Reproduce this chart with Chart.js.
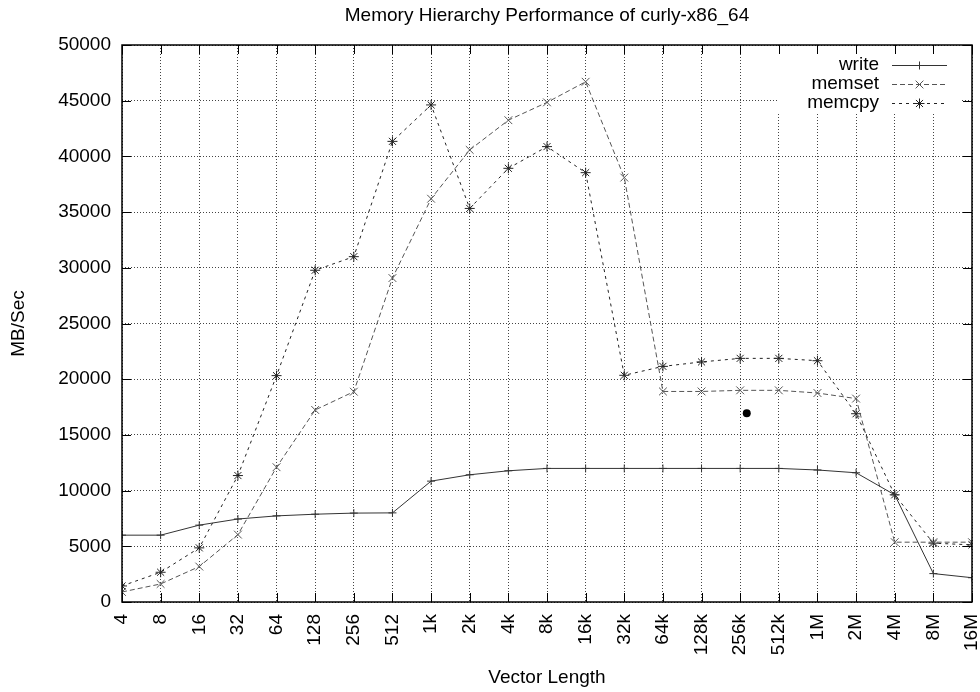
<!DOCTYPE html>
<html>
<head>
<meta charset="utf-8">
<title>Memory Hierarchy Performance</title>
<script src="https://cdn.jsdelivr.net/npm/chart.js@4/dist/chart.umd.min.js"></script>
<style>
    body { margin: 0; background: #fff; }
    canvas { display: block; }
</style>
</head>
<body>
<canvas id="chart" width="980" height="692"></canvas>
<script>
const TITLE = 'Memory Hierarchy Performance of curly-x86_64';
const FONT = '"Liberation Sans", Arial, Helvetica, sans-serif';

// vector lengths on the x axis
const lengths = ['4', '8', '16', '32', '64', '128', '256', '512', '1k', '2k', '4k', '8k',
    '16k', '32k', '64k', '128k', '256k', '512k', '1M', '2M', '4M', '8M', '16M'];

// MB/Sec
const writeSpeed = [6000, 6000, 6900, 7450, 7730, 7880, 7980, 8000, 10850, 11420, 11780, 11990,
    11990, 11990, 11990, 11990, 11990, 11990, 11850, 11600, 9620, 2550, 2180];
const memsetSpeed = [900, 1620, 3180, 6050, 12100, 17240, 18880, 29080, 36200, 40580, 43250, 44850,
    46700, 38100, 18900, 18900, 19000, 19000, 18760, 18260, 5370, 5370, 5370];
const memcpySpeed = [1440, 2670, 4860, 11350, 20320, 29780, 31000, 41350, 44620, 35330, 38930, 40880,
    38540, 20350, 21150, 21550, 21870, 21870, 21660, 16900, 9620, 5280, 5130];

// the lone dot between 256k and 512k
const strayX = [16.17];
const strayY = [16950];

const yTicks = [0, 5000, 10000, 15000, 20000, 25000, 30000, 35000, 40000, 45000, 50000];

function toPoints(values) {
    return values.map((v, i) => ({ x: i, y: v }));
}

function series(label, values, color, dash, style, radius) {
    return {
        label: label,
        data: toPoints(values),
        borderColor: color,
        backgroundColor: color,
        borderWidth: 1,
        borderDash: dash,
        pointStyle: style,
        pointRadius: radius,
        pointBorderWidth: 1,
        pointBorderColor: color,
        tension: 0,
        fill: false
    };
}

// grid is hidden behind the key box, like gnuplot does
const keyBox = {
    id: 'keyBox',
    beforeDatasetsDraw(chart) {
        const ctx = chart.ctx;
        ctx.save();
        ctx.fillStyle = '#fff';
        ctx.fillRect(778, 47, 182, 66);
        ctx.restore();
    }
};

function marker(ctx, style, radius, x, y) {
    if (Chart.helpers && Chart.helpers.drawPoint) {
        Chart.helpers.drawPoint(ctx, { pointStyle: style, radius: radius, borderWidth: 1, rotation: 0 }, x, y);
    }
}

const frame = {
    id: 'frame',
    afterDraw(chart) {
        const ctx = chart.ctx;
        const area = chart.chartArea;
        const xs = chart.scales.x;
        const ys = chart.scales.y;
        const tick = 9;

        ctx.save();
        ctx.strokeStyle = '#000';
        ctx.setLineDash([]);

        // inward ticks on all four sides
        ctx.lineWidth = 1;
        ctx.beginPath();
        lengths.forEach((_, i) => {
            const px = Math.round(xs.getPixelForValue(i)) + 0.5;
            ctx.moveTo(px, area.bottom);
            ctx.lineTo(px, area.bottom - tick);
            ctx.moveTo(px, area.top);
            ctx.lineTo(px, area.top + tick);
        });
        yTicks.forEach(v => {
            const py = Math.round(ys.getPixelForValue(v)) + 0.5;
            ctx.moveTo(area.left, py);
            ctx.lineTo(area.left + tick, py);
            ctx.moveTo(area.right, py);
            ctx.lineTo(area.right - tick, py);
        });
        ctx.stroke();

        ctx.lineWidth = 1.5;
        ctx.strokeRect(area.left, area.top, area.right - area.left, area.bottom - area.top);

        // title
        ctx.fillStyle = '#000';
        ctx.font = '19px ' + FONT;
        ctx.textAlign = 'center';
        ctx.textBaseline = 'middle';
        ctx.fillText(TITLE, (area.left + area.right) / 2, 16);

        // key
        ctx.textAlign = 'right';
        chart.data.datasets.slice(0, 3).forEach((ds, i) => {
            const y = 65 + i * 19;
            ctx.fillStyle = '#000';
            ctx.fillText(ds.label, 879, y);
            ctx.strokeStyle = ds.borderColor;
            ctx.lineWidth = 1;
            ctx.setLineDash(ds.borderDash);
            ctx.beginPath();
            ctx.moveTo(892, y + 0.5);
            ctx.lineTo(947, y + 0.5);
            ctx.stroke();
            ctx.setLineDash([]);
            marker(ctx, ds.pointStyle, ds.pointRadius, 919.5, y + 0.5);
        });
        ctx.restore();
    }
};

document.addEventListener('DOMContentLoaded', () => {
    const ctx = document.getElementById('chart').getContext('2d');

    new Chart(ctx, {
        type: 'line',
        data: {
            datasets: [
                series('write', writeSpeed, '#333', [], 'cross', 4),
                series('memset', memsetSpeed, '#555', [5, 3], 'crossRot', 5.5),
                series('memcpy', memcpySpeed, '#222', [3, 4], 'star', 5),
                {
                    label: 'dot',
                    data: strayX.map((x, i) => ({ x: x, y: strayY[i] })),
                    showLine: false,
                    pointStyle: 'circle',
                    pointRadius: 4,
                    backgroundColor: '#000',
                    borderColor: '#000',
                    pointBorderWidth: 0
                }
            ]
        },
        options: {
            responsive: false,
            animation: false,
            events: [],
            layout: { padding: { top: 45, right: 8, left: 0, bottom: 0 } },
            plugins: {
                legend: { display: false },
                title: { display: false },
                tooltip: { enabled: false }
            },
            scales: {
                x: {
                    type: 'linear',
                    min: 0,
                    max: lengths.length - 1,
                    grid: { color: '#444', lineWidth: 1, drawTicks: false },
                    border: { display: false, dash: [1, 2] },
                    ticks: {
                        stepSize: 1,
                        autoSkip: false,
                        maxRotation: 90,
                        minRotation: 90,
                        padding: 12,
                        color: '#000',
                        font: { family: FONT, size: 19 },
                        callback: v => lengths[v]
                    },
                    title: {
                        display: true,
                        text: 'Vector Length',
                        color: '#000',
                        font: { family: FONT, size: 19 },
                        padding: { top: 0, bottom: 3 }
                    },
                    afterFit: scale => {
                        scale.height = 90;
                        scale.paddingLeft = 0;
                        scale.paddingRight = 0;
                    }
                },
                y: {
                    min: 0,
                    max: 50000,
                    grid: { color: '#444', lineWidth: 1, drawTicks: false },
                    border: { display: false, dash: [1, 2] },
                    ticks: {
                        stepSize: 5000,
                        padding: 11,
                        color: '#000',
                        font: { family: FONT, size: 19 },
                        callback: v => String(v)
                    },
                    title: {
                        display: true,
                        text: 'MB/Sec',
                        color: '#000',
                        font: { family: FONT, size: 19 },
                        padding: { top: 7, bottom: 0 }
                    },
                    afterFit: scale => {
                        scale.width = 122;
                    }
                }
            }
        },
        plugins: [keyBox, frame]
    });
});
</script>
</body>
</html>
